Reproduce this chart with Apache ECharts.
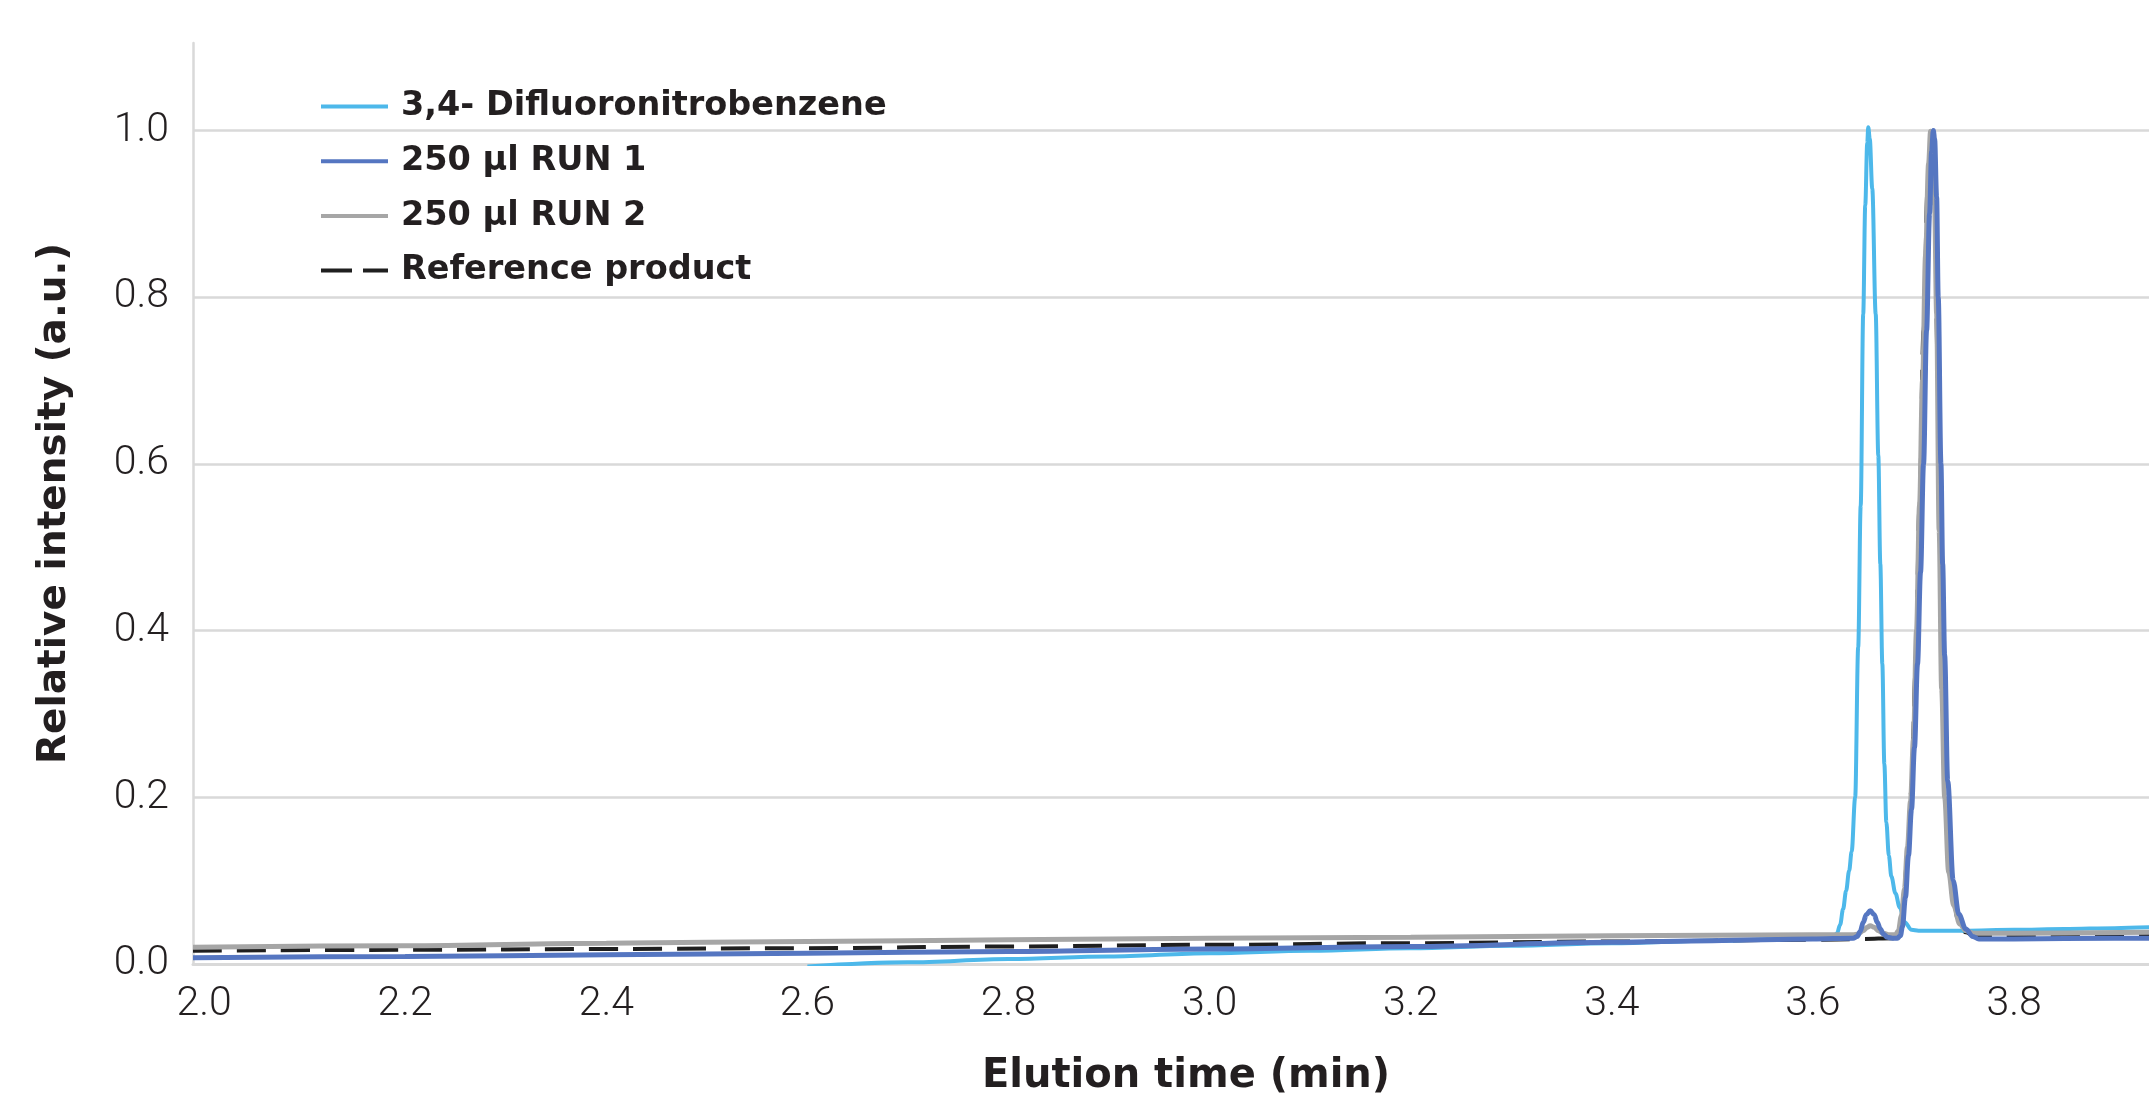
<!DOCTYPE html>
<html>
<head>
<meta charset="utf-8">
<script src="https://cdn.jsdelivr.net/npm/echarts@6/dist/echarts.min.js"></script>
<style>
html,body{margin:0;padding:0;background:#fff;}
#chart{width:2149px;height:1102px;}
</style>
</head>
<body>
<div id="chart"></div>
<script>
// ---- data ----
const seriesNames = ['3,4- Difluoronitrobenzene', '250 µl RUN 1', '250 µl RUN 2', 'Reference product'];
const xTickValues = [2.0, 2.2, 2.4, 2.6, 2.8, 3.0, 3.2, 3.4, 3.6, 3.8];

const dfnbTime = [2.600, 2.700, 2.800, 2.900, 3.000, 3.100, 3.200, 3.300, 3.400, 3.500, 3.600, 3.620, 3.624, 3.627, 3.630, 3.633, 3.636, 3.6385, 3.642, 3.645, 3.6475, 3.650, 3.652, 3.654, 3.655, 3.6565, 3.659, 3.6624, 3.665, 3.667, 3.669, 3.671, 3.673, 3.6755, 3.678, 3.682, 3.6863, 3.6913, 3.698, 3.705, 3.750, 3.800, 3.850, 3.900, 3.935];
const dfnbIntensity = [-0.003, 0.002, 0.006, 0.009, 0.013, 0.016, 0.019, 0.022, 0.025, 0.028, 0.031, 0.032, 0.037, 0.047, 0.066, 0.088, 0.112, 0.135, 0.20, 0.38, 0.55, 0.78, 0.91, 0.985, 1.004, 0.99, 0.93, 0.78, 0.61, 0.48, 0.36, 0.24, 0.17, 0.13, 0.105, 0.085, 0.068, 0.050, 0.041, 0.040, 0.040, 0.041, 0.042, 0.043, 0.044];

const run1Time = [1.989, 2.200, 2.400, 2.600, 2.800, 3.000, 3.200, 3.400, 3.500, 3.600, 3.640, 3.644, 3.647, 3.650, 3.653, 3.657, 3.661, 3.664, 3.667, 3.670, 3.674, 3.679, 3.684, 3.687, 3.689, 3.692, 3.695, 3.698, 3.701, 3.704, 3.707, 3.710, 3.713, 3.716, 3.718, 3.7197, 3.721, 3.723, 3.7246, 3.7273, 3.729, 3.731, 3.734, 3.7395, 3.745, 3.752, 3.759, 3.765, 3.800, 3.900, 3.935];
const run1Intensity = [0.0075, 0.009, 0.011, 0.013, 0.015, 0.018, 0.021, 0.026, 0.028, 0.030, 0.031, 0.033, 0.039, 0.050, 0.059, 0.064, 0.059, 0.050, 0.042, 0.036, 0.032, 0.031, 0.031, 0.034, 0.045, 0.080, 0.130, 0.185, 0.26, 0.36, 0.47, 0.60, 0.76, 0.90, 0.975, 1.000, 0.99, 0.92, 0.80, 0.60, 0.48, 0.37, 0.22, 0.10, 0.060, 0.042, 0.033, 0.030, 0.030, 0.031, 0.031];

const run2Time = [1.989, 2.200, 2.400, 2.600, 2.800, 3.000, 3.200, 3.400, 3.600, 3.640, 3.645, 3.650, 3.654, 3.657, 3.661, 3.665, 3.670, 3.676, 3.682, 3.685, 3.688, 3.691, 3.694, 3.697, 3.700, 3.703, 3.706, 3.709, 3.712, 3.715, 3.717, 3.719, 3.721, 3.723, 3.7255, 3.728, 3.731, 3.735, 3.740, 3.746, 3.752, 3.760, 3.800, 3.935];
const run2Intensity = [0.020, 0.022, 0.025, 0.027, 0.029, 0.031, 0.032, 0.034, 0.035, 0.035, 0.036, 0.040, 0.044, 0.046, 0.044, 0.040, 0.037, 0.035, 0.035, 0.040, 0.058, 0.090, 0.140, 0.195, 0.27, 0.40, 0.55, 0.70, 0.85, 0.96, 0.999, 0.98, 0.91, 0.78, 0.52, 0.33, 0.20, 0.11, 0.070, 0.048, 0.040, 0.037, 0.037, 0.038];

const refTime = [1.989, 2.200, 2.400, 2.600, 2.800, 3.000, 3.200, 3.400, 3.600, 3.650, 3.680, 3.684, 3.687, 3.690, 3.694, 3.698, 3.702, 3.706, 3.710, 3.714, 3.718, 3.721, 3.724, 3.727, 3.730, 3.734, 3.739, 3.745, 3.752, 3.760, 3.800, 3.935];
const refIntensity = [0.016, 0.017, 0.018, 0.019, 0.021, 0.023, 0.025, 0.027, 0.029, 0.030, 0.031, 0.033, 0.046, 0.075, 0.13, 0.21, 0.35, 0.55, 0.76, 0.93, 0.99, 0.93, 0.72, 0.48, 0.29, 0.15, 0.080, 0.050, 0.038, 0.034, 0.034, 0.034];

// ---- build ----
function pairs(t, v) { return t.map((x, i) => [x, v[i]]); }
const colors = ['#4db8ea', '#5576c1', '#a6a6a6', '#1f1f1f'];
const textColor = '#231f20';
const boldFont = 'DejaVu Sans';

const chart = echarts.init(document.getElementById('chart'), null, {renderer: 'canvas'});
const lineBase = {type: 'line', symbol: 'none', showSymbol: false, smooth: 0.35, smoothMonotone: 'x', animation: false};

chart.setOption({
  animation: false,
  grid: {left: 193, right: 0, top: 43, bottom: 135, containLabel: false},
  legend: {
    orient: 'vertical', left: 316, top: 81,
    itemWidth: 67, itemHeight: 4, itemGap: 13.7,
    textStyle: {fontFamily: boldFont, fontWeight: 'bold', fontSize: 33.5, color: textColor, lineHeight: 34, padding: [7, 0, 0, 8]},
    data: [
      {name: seriesNames[0], icon: 'rect'},
      {name: seriesNames[1], icon: 'rect'},
      {name: seriesNames[2], icon: 'rect'},
      {name: seriesNames[3], icon: 'path://M0 0H31V4H0ZM42 0H67V4H42Z'}
    ]
  },
  xAxis: {
    type: 'value', min: 1.989, max: 3.9342,
    name: 'Elution time (min)', nameLocation: 'middle', nameGap: 93,
    nameTextStyle: {fontFamily: boldFont, fontWeight: 'bold', fontSize: 40, color: textColor, padding: [0, 0, 0, 30]},
    axisLine: {show: true, lineStyle: {color: '#d9d9d9', width: 3}},
    axisTick: {show: false, customValues: xTickValues},
    axisLabel: {customValues: xTickValues, formatter: v => v.toFixed(1), margin: 20,
      fontFamily: 'Roboto', fontWeight: 300, fontSize: 41, color: textColor},
    splitLine: {show: false}
  },
  yAxis: {
    type: 'value', min: 0, max: 1.105, interval: 0.2,
    name: 'Relative intensity (a.u.)', nameLocation: 'middle', nameGap: 119,
    nameTextStyle: {fontFamily: boldFont, fontWeight: 'bold', fontSize: 39, color: textColor},
    axisLine: {show: true, lineStyle: {color: '#d9d9d9', width: 2.5}},
    axisTick: {show: false},
    axisLabel: {formatter: v => v.toFixed(1), margin: 24, showMaxLabel: false, padding: [0, 0, 10, 0],
      fontFamily: 'Roboto', fontWeight: 300, fontSize: 41, color: textColor},
    splitLine: {show: true, showMaxLine: false, showMinLine: false, lineStyle: {color: '#d9d9d9', width: 2.5}}
  },
  series: [
    Object.assign({}, lineBase, {name: seriesNames[3], z: 1, data: pairs(refTime, refIntensity),
      lineStyle: {color: colors[3], width: 4, type: [29, 15]}, itemStyle: {color: colors[3]}}),
    Object.assign({}, lineBase, {name: seriesNames[0], z: 2, data: pairs(dfnbTime, dfnbIntensity),
      lineStyle: {color: colors[0], width: 4}, itemStyle: {color: colors[0]}}),
    Object.assign({}, lineBase, {name: seriesNames[2], z: 3, data: pairs(run2Time, run2Intensity),
      lineStyle: {color: colors[2], width: 5}, itemStyle: {color: colors[2]}}),
    Object.assign({}, lineBase, {name: seriesNames[1], z: 4, data: pairs(run1Time, run1Intensity),
      lineStyle: {color: colors[1], width: 5}, itemStyle: {color: colors[1]}})
  ]
});
</script>
</body>
</html>
